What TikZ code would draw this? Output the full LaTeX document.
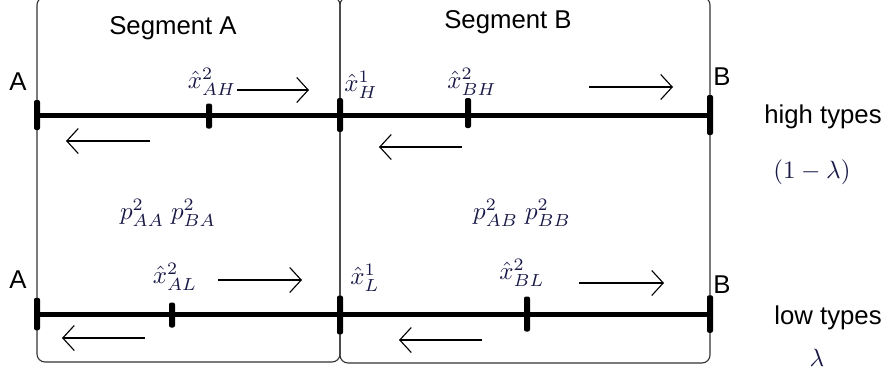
\documentclass[tikz,border=0pt]{standalone}
\usepackage{fontspec}
\setmainfont{Liberation Sans}
\usetikzlibrary{arrows.meta}

\begin{document}
\begin{tikzpicture}[
		x=0.4pt, y=-0.4pt,
		segbox/.style={
			draw=black!80, line width=0.45pt, rounded corners=3.2pt,
		},
		axis/.style={
			line width=2pt,
		},
		tick/.style={
			fill=black, inner sep=0pt, rounded corners=0.8pt,
			minimum width=2.4pt, minimum height=12pt,
		},
		move/.style={
			line width=0.45pt,
			-{Straight Barb[length=4.6pt, width=10pt, line width=0.45pt]},
		},
		word/.style={
			font=\fontsize{10.3}{12}\selectfont, inner sep=0pt,
		},
		point/.style={
			inner sep=0pt, text=black!80!blue!90,
		},
	]
		\useasboundingbox (0,0) rectangle (887,374);

		% the two segments
		\draw[segbox] (37,-3) rectangle (340,362);
		\draw[segbox] (340,-3) rectangle (710,363);
		\node[word] (segA) at (173,28) {Segment A};
		\node[word] (segB) at (508,22) {Segment B};

		% high types
		\node[tick] (hA) at (37,115) {};
		\node[tick, minimum height=10pt] (hAH) at (209,116) {};
		\node[tick, minimum height=13.5pt] (hH) at (340,115) {};
		\node[tick] (hBH) at (468,113) {};
		\node[tick, minimum height=16pt] (hB) at (710,115) {};
		\draw[axis] (hA.center) -- (hB.center);

		\node[word] (endhA) at (18,82) {A};
		\node[word] (endhB) at (722,77) {B};
		\node[point] (xAH) at (212,82) {$\hat{x}^2_{AH}$};
		\node[point] (xH) at (361,85) {$\hat{x}^1_{H}$};
		\node[point] (xBH) at (472,82) {$\hat{x}^2_{BH}$};

		\coordinate (hr1) at (237,90);
		\coordinate (hr2) at (309,90);
		\coordinate (hl1) at (150,141);
		\coordinate (hl2) at (66,141);
		\coordinate (hr3) at (589,87);
		\coordinate (hr4) at (673,87);
		\coordinate (hl3) at (462,147);
		\coordinate (hl4) at (379,147);
		\draw[move] (hr1) -- (hr2);
		\draw[move] (hl1) -- (hl2);
		\draw[move] (hr3) -- (hr4);
		\draw[move] (hl3) -- (hl4);

		\node[word] (high) at (823,117) {high types};
		\node[point] (share) at (812,172) {$(1-\lambda)$};

		% prices
		\node[point] (pA) at (168,213) {$p^2_{AA}\;p^2_{BA}$};
		\node[point] (pB) at (522,213) {$p^2_{AB}\;p^2_{BB}$};

		% low types
		\node[tick, minimum height=13pt] (lA) at (37,314) {};
		\node[tick, minimum height=10pt] (lAL) at (172,315) {};
		\node[tick, minimum height=15.5pt] (lL) at (340,315) {};
		\node[tick, minimum height=14pt] (lBL) at (527,314) {};
		\node[tick, minimum height=15pt] (lB) at (710,314) {};
		\draw[axis] (lA.center) -- (lB.center);

		\node[word] (endlA) at (18,280) {A};
		\node[word] (endlB) at (722,285) {B};
		\node[point] (xAL) at (175,277) {$\hat{x}^2_{AL}$};
		\node[point] (xL) at (365,278) {$\hat{x}^1_{L}$};
		\node[point] (xBL) at (522,273) {$\hat{x}^2_{BL}$};

		\coordinate (lr1) at (218,280);
		\coordinate (lr2) at (302,280);
		\coordinate (ll1) at (145,338);
		\coordinate (ll2) at (62,338);
		\coordinate (lr3) at (579,283);
		\coordinate (lr4) at (664,283);
		\coordinate (ll3) at (482,340);
		\coordinate (ll4) at (399,340);
		\draw[move] (lr1) -- (lr2);
		\draw[move] (ll1) -- (ll2);
		\draw[move] (lr3) -- (lr4);
		\draw[move] (ll3) -- (ll4);

		\node[word] (low) at (828,318) {low types};
		\node[point] (lshare) at (817,358) {$\lambda$};
	\end{tikzpicture}
\end{document}
